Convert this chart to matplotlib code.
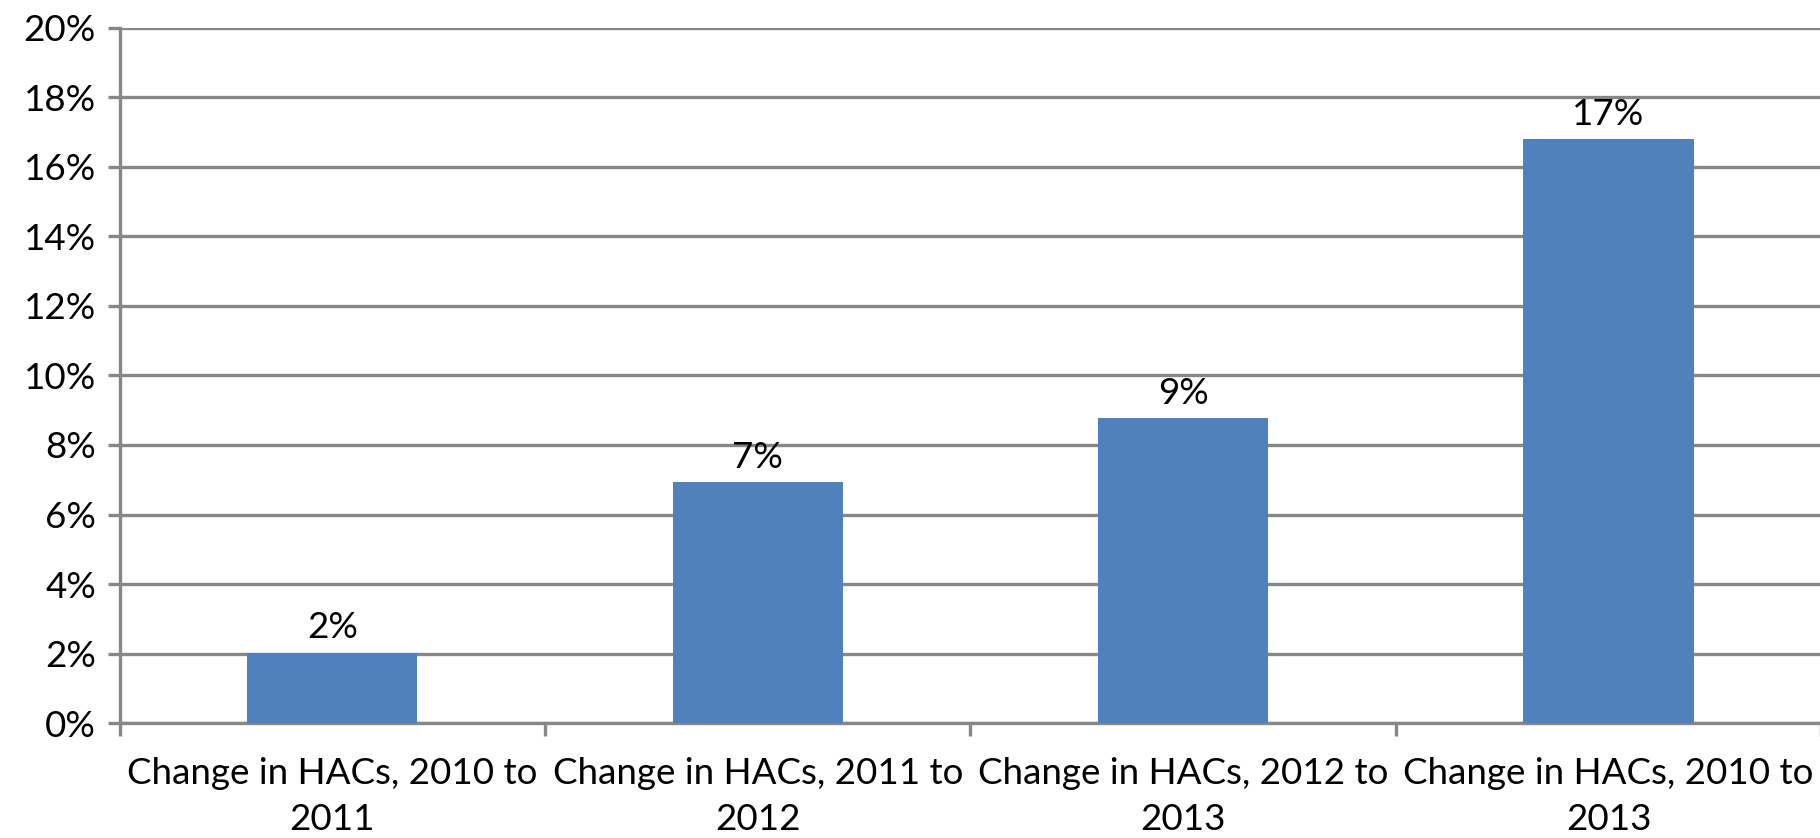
import matplotlib.pyplot as plt
import numpy as np

categories = ["Change in HACs, 2010 to\n2011", "Change in HACs, 2011 to\n2012",
              "Change in HACs, 2012 to\n2013", "Change in HACs, 2010 to\n2013"]
values = [2.03, 6.93, 8.77, 16.8]
value_labels = ["2%", "7%", "9%", "17%"]
y_ticks = [0, 2, 4, 6, 8, 10, 12, 14, 16, 18, 20]

plt.rcParams['font.family'] = ['Lato', 'DejaVu Sans']
grey = "#878787"
fs = 26.5

fig = plt.figure(figsize=(18.2, 8.38), dpi=100)
ax = fig.add_axes([0.0657, 0.137, 0.935, 0.83])

x = np.arange(len(categories))
ax.set_axisbelow(True)
ax.yaxis.grid(True, color=grey, linewidth=2.4)
ax.bar(x, values, width=0.4, color="#4F81BD", zorder=3)

for xi, v, lab in zip(x, values, value_labels):
    ax.annotate(lab, (xi, v), xytext=(0, 6), textcoords="offset points",
                ha="center", va="bottom", fontsize=fs)

ax.set_xlim(-0.5, len(categories) - 0.5)
ax.set_ylim(0, 20)
ax.set_yticks(y_ticks)
ax.set_yticklabels(["%d%%" % t for t in y_ticks], fontsize=fs)

ax.set_xticks(np.arange(len(categories) + 1) - 0.5)
ax.set_xticklabels([])
ax.set_xticks(x, minor=True)
ax.set_xticklabels(categories, minor=True, fontsize=fs, linespacing=1.5)
ax.tick_params(axis="x", which="minor", length=0, pad=24)
ax.tick_params(axis="x", which="major", length=9, width=2.4, color=grey)
ax.tick_params(axis="y", length=9, width=2.4, color=grey, pad=8)

for s in ["top", "right"]:
    ax.spines[s].set_visible(False)
for s in ["left", "bottom"]:
    ax.spines[s].set_color(grey)
    ax.spines[s].set_linewidth(2.4)

fig.savefig("out.png", dpi=100)
